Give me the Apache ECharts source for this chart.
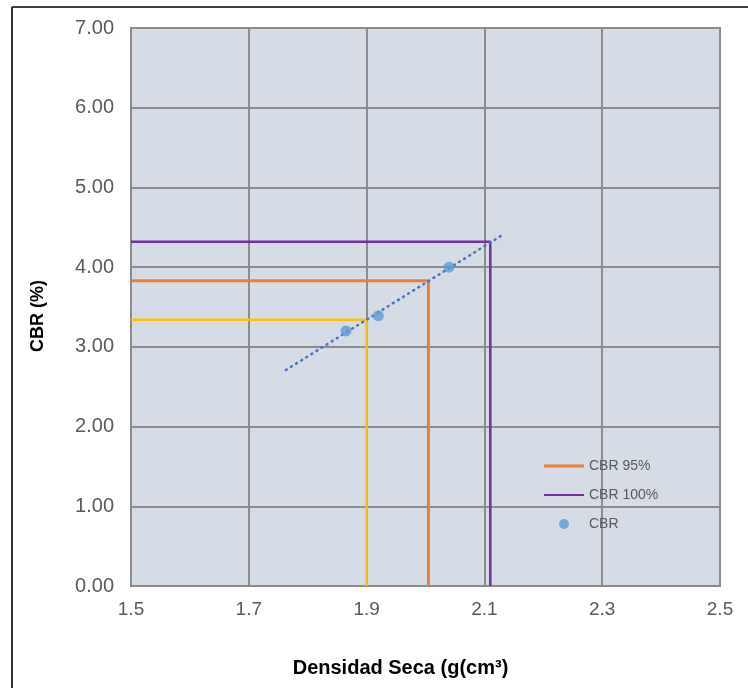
<!DOCTYPE html>
<html>
<head>
<meta charset="utf-8">
<script src="https://cdn.jsdelivr.net/npm/echarts@6/dist/echarts.min.js"></script>
<style>
  html, body { margin: 0; padding: 0; background: #ffffff; }
  #chart { width: 748px; height: 688px; }
</style>
</head>
<body>
<div id="chart"></div>
<script>
// --- Data ---
const cbrPoints = [[1.865, 3.20], [1.92, 3.39], [2.04, 4.00]];
const trendLine = [[1.763, 2.71], [2.132, 4.41]];
const cbr90Line = [[1.5, 3.34], [1.90, 3.34], [1.90, 0]];
const cbr95Line = [[1.5, 3.83], [2.005, 3.83], [2.005, 0]];
const cbr100Line = [[1.5, 4.32], [2.11, 4.32], [2.11, 0]];
const legendNames = ['CBR 95%', 'CBR 100%', 'CBR'];
const xTitle = 'Densidad Seca (g(cm³)';
const yTitle = 'CBR (%)';

const chart = echarts.init(document.getElementById('chart'), null, { renderer: 'canvas' });
const font = '"Liberation Sans", Arial, sans-serif';

chart.setOption({
  animation: false,
  backgroundColor: '#ffffff',
  grid: {
    left: 131, right: 28, top: 28, bottom: 102,
    show: true, backgroundColor: '#D6DCE5',
    borderColor: '#8c8c8c', borderWidth: 2
  },
  legend: {
    orient: 'vertical',
    left: 539, top: 454,
    itemWidth: 40, itemHeight: 10, itemGap: 15,
    textStyle: { color: '#595959', fontSize: 14, fontFamily: font },
    data: [
      { name: legendNames[0], icon: 'path://M0,0H40V3H0Z' },
      { name: legendNames[1], icon: 'path://M0,0H40V2H0Z' },
      { name: legendNames[2], icon: 'circle' }
    ]
  },
  xAxis: {
    type: 'value', min: 1.5, max: 2.5, interval: 0.2,
    name: xTitle, nameLocation: 'middle', nameGap: 72,
    nameTextStyle: { color: '#000', fontSize: 20, fontWeight: 'bold', fontFamily: font, padding: [0, 50, 0, 0] },
    axisLine: { show: false }, axisTick: { show: false },
    axisLabel: { color: '#595959', fontSize: 19, fontFamily: font, margin: 14,
      formatter: v => v.toFixed(1) },
    splitLine: { show: true, lineStyle: { color: '#8c8c8c', width: 2 } }
  },
  yAxis: {
    type: 'value', min: 0, max: 7, interval: 1,
    name: yTitle, nameLocation: 'middle', nameGap: 84,
    nameTextStyle: { color: '#000', fontSize: 18, fontWeight: 'bold', fontFamily: font, padding: [0, 18, 0, 0] },
    axisLine: { show: false }, axisTick: { show: false },
    axisLabel: { color: '#595959', fontSize: 20, fontFamily: font, margin: 17,
      formatter: v => v.toFixed(2) },
    splitLine: { show: true, lineStyle: { color: '#8c8c8c', width: 2 } }
  },
  graphic: [
    { type: 'line', shape: { x1: 12, y1: 7, x2: 748, y2: 7 }, style: { stroke: '#404040', lineWidth: 2 } },
    { type: 'line', shape: { x1: 12, y1: 7, x2: 12, y2: 688 }, style: { stroke: '#303030', lineWidth: 2 } }
  ],
  series: [
    { name: 'CBR 90%', type: 'line', data: cbr90Line, showSymbol: false, symbol: 'none',
      lineStyle: { color: '#FFC000', width: 2.5 }, itemStyle: { color: '#FFC000' }, z: 2 },
    { name: legendNames[0], type: 'line', data: cbr95Line, showSymbol: false, symbol: 'none',
      lineStyle: { color: '#ED7D31', width: 3 }, itemStyle: { color: '#ED7D31' }, z: 2 },
    { name: legendNames[1], type: 'line', data: cbr100Line, showSymbol: false, symbol: 'none',
      lineStyle: { color: '#7030A0', width: 2.5 }, itemStyle: { color: '#7030A0' }, z: 2 },
    { name: 'Tendencia', type: 'line', data: trendLine, showSymbol: false, symbol: 'none',
      lineStyle: { color: '#4472C4', width: 2.5, type: [1, 5], cap: 'round' }, z: 3 },
    { name: legendNames[2], type: 'scatter', data: cbrPoints, symbolSize: 11,
      itemStyle: { color: '#5B9BD5' }, z: 4 }
  ]
});
</script>
</body>
</html>
